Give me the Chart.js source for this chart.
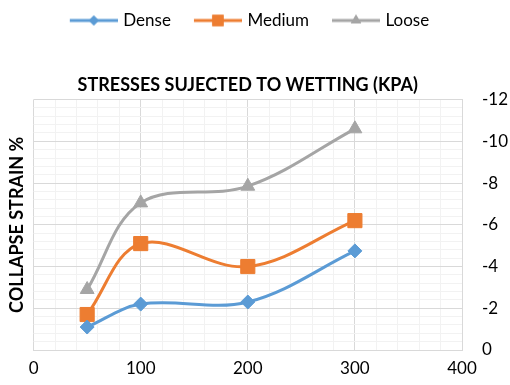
<!DOCTYPE html>
<html>
<head>
<meta charset="utf-8">
<script src="https://cdn.jsdelivr.net/npm/chart.js@4/dist/chart.umd.min.js"></script>
<style>
  html, body { margin: 0; padding: 0; background: #fff; }
  #wrap { width: 510px; height: 385px; }
</style>
</head>
<body>
<div id="wrap"><canvas id="chart" width="510" height="385"></canvas></div>
<script>
const stresses = [50, 100, 200, 300];
const dense = [-1.1, -2.2, -2.3, -4.75];
const medium = [-1.7, -5.1, -4.0, -6.2];
const loose = [-2.9, -7.05, -7.85, -10.6];
const seriesNames = ['Dense', 'Medium', 'Loose'];
const xTickLabels = [0, 100, 200, 300, 400];
const yTickLabels = [0, -2, -4, -6, -8, -10, -12];

const colors = ['#5B9BD5', '#ED7D31', '#A5A5A5'];
const styles = ['rectRot', 'rect', 'triangle'];
const radii = [7, 10, 8];
const legendRadii = [5, 8, 6];
const FONT = 'Lato';

// legend sample: line with the marker in the middle
function legendIcon(color, style, r) {
  const c = document.createElement('canvas');
  c.width = 62; c.height = 20;
  const g = c.getContext('2d');
  g.strokeStyle = color;
  g.lineWidth = 3;
  g.beginPath();
  g.moveTo(14, 10);
  g.lineTo(62, 10);
  g.stroke();
  g.fillStyle = color;
  Chart.helpers.drawPoint(g, { pointStyle: style, radius: r, borderWidth: 0 }, 38, 10);
  g.fill();
  return c;
}

function toPoints(vals) {
  return stresses.map((x, i) => ({ x: x, y: vals[i] }));
}

const allSeries = [dense, medium, loose];
const datasets = allSeries.map((vals, i) => ({
  label: seriesNames[i],
  data: toPoints(vals),
  borderColor: colors[i],
  backgroundColor: colors[i],
  borderWidth: 3,
  pointStyle: styles[i],
  pointRadius: radii[i],
  pointHoverRadius: radii[i],
  pointBorderWidth: 1,
  tension: 0.36,
  yAxisID: 'y'
}));

const isMajor = (v, step) => Math.abs(Math.round(v / step) * step - v) < 1e-6;

// Excel centres the chart title over the plot area, and the legend sits a bit left
const placeBoxes = {
  id: 'placeBoxes',
  afterLayout(chart) {
    chart.titleBlock.left = chart.chartArea.left;
    chart.titleBlock.right = chart.chartArea.right;
    chart.legend.left -= 14;
    chart.legend.right -= 14;
  }
};

new Chart(document.getElementById('chart'), {
  type: 'line',
  data: { datasets: datasets },
  plugins: [placeBoxes],
  options: {
    responsive: false,
    animation: false,
    layout: { padding: { left: 6, right: 0, top: 0, bottom: 6 } },
    plugins: {
      legend: {
        position: 'top',
        weight: 3000,
        labels: {
          usePointStyle: true,
          pointStyleWidth: 56,
          padding: 12,
          color: '#000',
          font: { family: FONT, size: 17 },
          generateLabels: chart => chart.data.datasets.map((ds, i) => ({
            text: ds.label,
            pointStyle: legendIcon(colors[i], styles[i], legendRadii[i]),
            fillStyle: colors[i],
            strokeStyle: colors[i],
            lineWidth: 0,
            datasetIndex: i
          }))
        }
      },
      title: {
        display: true,
        text: 'STRESSES SUJECTED TO WETTING (KPA)',
        color: '#000',
        font: { family: FONT, size: 18, weight: 'bold' },
        padding: { top: 35, bottom: 4 }
      },
      tooltip: { enabled: false }
    },
    scales: {
      x: {
        type: 'linear',
        min: 0,
        max: 400,
        afterFit: scale => { scale.height = 29; },
        ticks: {
          stepSize: 20,
          autoSkip: false,
          maxRotation: 0,
          padding: 8,
          color: '#000',
          font: { family: FONT, size: 17 },
          callback: v => xTickLabels.includes(v) ? String(v) : ''
        },
        grid: {
          drawTicks: false,
          color: ctx => isMajor(ctx.tick.value, 100) ? '#D9D9D9' : '#F2F2F2',
          lineWidth: 1
        },
        border: { color: '#D9D9D9' }
      },
      y: {
        type: 'linear',
        position: 'right',
        reverse: true,
        min: -12,
        max: 0,
        afterFit: scale => { scale.width = 48; },
        ticks: {
          stepSize: 0.4,
          autoSkip: false,
          padding: 20,
          color: '#000',
          font: { family: FONT, size: 17 },
          callback: v => {
            const r = Math.round(v);
            return (isMajor(v, 2) && yTickLabels.includes(r)) ? String(r) : '';
          }
        },
        grid: {
          drawTicks: false,
          color: ctx => isMajor(ctx.tick.value, 2) ? '#D9D9D9' : '#F2F2F2',
          lineWidth: 1
        },
        border: { color: '#D9D9D9' }
      },
      yTitle: {
        type: 'linear',
        position: 'left',
        display: true,
        ticks: { display: false },
        grid: { display: false, drawOnChartArea: false, drawTicks: false },
        border: { display: false },
        title: {
          display: true,
          text: 'COLLAPSE STRAIN %',
          color: '#000',
          font: { family: FONT, size: 18, weight: 'bold' },
          padding: { top: 0, bottom: 6 }
        }
      }
    }
  }
});
</script>
</body>
</html>
